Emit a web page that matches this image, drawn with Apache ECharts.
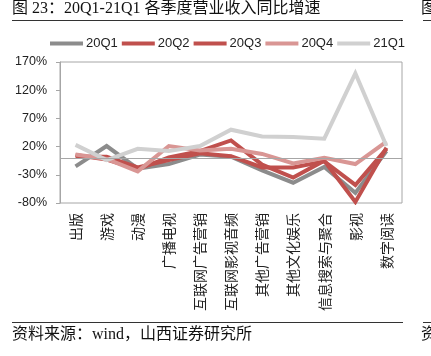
<!DOCTYPE html>
<html>
<head>
<meta charset="utf-8">
<script src="https://cdn.jsdelivr.net/npm/echarts@6/dist/echarts.min.js"></script>
<style>
html,body{margin:0;padding:0;background:#fff;}
#c{width:431px;height:356px;}
</style>
</head>
<body>
<div id="c"></div>
<script>
var categories = ['出版','游戏','动漫','广播电视','互联网广告营销','互联网影视音频','其他广告营销','其他文化娱乐','信息搜索与聚合','影视','数字阅读'];
var seriesNames = ['20Q1','20Q2','20Q3','20Q4','21Q1'];
var q20Q1 = [-15, 21, -19, -11, 6, 2, -22, -44, -16, -62, 12];
var q20Q2 = [2, 2, -17, -4, 8, 3, -17, -17, -6, -48, 16];
var q20Q3 = [5, -3, -20, 1, 12, 31, -12, -35, -5, -78, 18];
var q20Q4 = [6, -2, -24, 21, 13, 16, 7, -10, 0, -11, 29];
var q21Q1 = [23, -4, 16, 12, 21, 50, 38, 37, 34, 150, 21];
var yTicks = [-80, -30, 20, 70, 120, 170];
var colors = ['#8c8c8c', '#c0504d', '#c0504d', '#d99694', '#d0d0d0'];
var allData = [q20Q1, q20Q2, q20Q3, q20Q4, q21Q1];

var chart = echarts.init(document.getElementById('c'), null, {renderer: 'canvas'});
var series = seriesNames.map(function (n, i) {
  var s = {
    name: n,
    type: 'line',
    data: allData[i],
    symbol: 'none',
    smooth: false,
    lineStyle: {width: 4, color: colors[i], cap: 'butt', join: 'miter'},
    itemStyle: {color: colors[i]}
  };
  if (i === 0) {
    s.markLine = {
      silent: true,
      symbol: 'none',
      label: {show: false},
      lineStyle: {color: '#a6a6a6', width: 1, type: 'solid'},
      data: [{yAxis: 0}]
    };
  }
  return s;
});

var serifCJK = '"Liberation Serif", "Noto Sans CJK SC", serif';
chart.setOption({
  animation: false,
  backgroundColor: '#fff',
  grid: {left: 60, right: 29, top: 62, bottom: 153, show: true, borderColor: '#a6a6a6', borderWidth: 1},
  legend: {
    data: seriesNames,
    left: 45, top: 32,
    icon: 'rect',
    itemWidth: 33, itemHeight: 4, itemGap: 4,
    textStyle: {fontSize: 13, color: '#222', fontFamily: '"Liberation Sans", Arial, sans-serif', padding: [0,0,0,-2]}
  },
  xAxis: {
    type: 'category',
    data: categories,
    boundaryGap: true,
    axisLine: {show: false, onZero: false},
    axisTick: {show: false},
    axisLabel: {rotate: 90, margin: 10, fontSize: 14, color: '#222', fontFamily: '"Noto Sans CJK SC", sans-serif', interval: 0}
  },
  yAxis: {
    type: 'value',
    min: yTicks[0], max: yTicks[yTicks.length - 1], interval: 50,
    splitLine: {show: false},
    axisLine: {show: true, lineStyle: {color: '#a6a6a6'}},
    axisTick: {show: true, length: 4, lineStyle: {color: '#a6a6a6'}},
    axisLabel: {formatter: function (v) { return v + '%'; }, fontSize: 12.5, color: '#222', margin: 13, fontFamily: '"Liberation Sans", Arial, sans-serif'}
  },
  series: series,
  graphic: [
    {type: 'text', left: 12, top: 1, style: {text: '图 23：20Q1-21Q1 各季度营业收入同比增速', font: '16px ' + serifCJK, fill: '#111'}},
    {type: 'line', shape: {x1: 12, y1: 20.5, x2: 403, y2: 20.5}, style: {stroke: '#333', lineWidth: 1}},
    {type: 'line', shape: {x1: 12, y1: 322.5, x2: 403, y2: 322.5}, style: {stroke: '#333', lineWidth: 1}},
    {type: 'text', left: 12, top: 327, style: {text: '资料来源：wind，山西证券研究所', font: '16px ' + serifCJK, fill: '#111'}},
    {type: 'text', left: 421, top: 1, style: {text: '图', font: '16px ' + serifCJK, fill: '#111'}},
    {type: 'line', shape: {x1: 423, y1: 20.5, x2: 431, y2: 20.5}, style: {stroke: '#333', lineWidth: 1}},
    {type: 'line', shape: {x1: 423, y1: 322.5, x2: 431, y2: 322.5}, style: {stroke: '#333', lineWidth: 1}},
    {type: 'text', left: 421, top: 327, style: {text: '资', font: '16px ' + serifCJK, fill: '#111'}}
  ]
});
</script>
</body>
</html>
